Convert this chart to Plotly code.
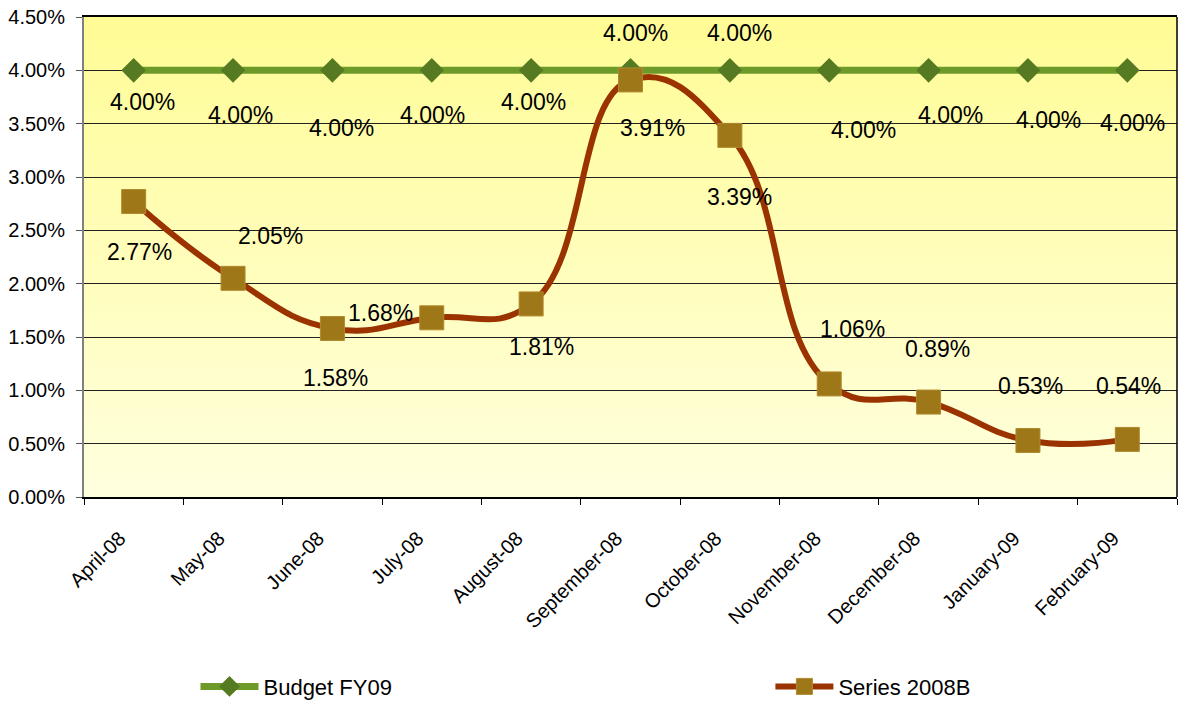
import plotly.graph_objects as go

months = ["April-08", "May-08", "June-08", "July-08", "August-08", "September-08",
          "October-08", "November-08", "December-08", "January-09", "February-09"]
budget = [4.00, 4.00, 4.00, 4.00, 4.00, 4.00, 4.00, 4.00, 4.00, 4.00, 4.00]
series_2008b = [2.77, 2.05, 1.58, 1.68, 1.81, 3.91, 3.39, 1.06, 0.89, 0.53, 0.54]

# label offsets in pixels (dx, dy) -- style only
budget_off = [(9, -32), (7, -45), (9, -58), (1, -45), (2, -32), (5, 37),
              (10, 37), (34, -60), (22, -45), (21, -50), (5, -53)]
series_off = [(6, -50), (37, 42), (3, -50), (-51, 5), (10, -43), (22, -48),
              (10, -62), (23, 55), (9, 53), (3, 54), (1, 53)]

FONT = "Liberation Sans, Arial, sans-serif"

fig = go.Figure()
fig.add_trace(go.Scatter(
    x=months, y=budget, name="Budget FY09", mode="lines+markers",
    line=dict(color="#6E9A2A", width=7),
    marker=dict(symbol="diamond", size=19, color="#567A22"),
    legend="legend",
))
fig.add_trace(go.Scatter(
    x=months, y=series_2008b, name="Series 2008B", mode="lines+markers",
    line=dict(color="#9A3300", width=6, shape="spline", smoothing=1.3),
    marker=dict(symbol="square", size=24, color="#9E7818",
                line=dict(color="#B08A30", width=1)),
    legend="legend2",
))

annotations = []
for vals, offs in ((budget, budget_off), (series_2008b, series_off)):
    for m, v, (dx, dy) in zip(months, vals, offs):
        annotations.append(dict(
            x=m, y=v, xref="x", yref="y", text=f"{v:.2f}%", showarrow=False,
            xshift=dx, yshift=dy, font=dict(family=FONT, size=23, color="black"),
        ))

# vertical gradient background
shapes = []
N = 60
top = (255, 252, 150)
bot = (255, 255, 222)
for i in range(N):
    t = i / (N - 1)
    c = tuple(round(top[k] + (bot[k] - top[k]) * t) for k in range(3))
    shapes.append(dict(type="rect", xref="x domain", yref="y domain",
                       x0=0, x1=1, y0=1 - (i + 1) / N, y1=1 - i / N,
                       fillcolor=f"rgb{c}", line=dict(width=0), layer="below"))
shapes.append(dict(type="line", xref="x domain", yref="y domain", x0=1, x1=1,
                   y0=0, y1=1, line=dict(color="black", width=1.5), layer="above"))

legend_style = dict(orientation="h", yanchor="middle", xanchor="left",
                    itemwidth=58, bgcolor="rgba(0,0,0,0)",
                    font=dict(family=FONT, size=22, color="black"))

fig.update_layout(
    width=1179, height=709,
    margin=dict(l=84, r=2, t=17, b=208),
    paper_bgcolor="white", plot_bgcolor="rgba(0,0,0,0)",
    font=dict(family=FONT, size=20, color="black"),
    showlegend=True,
    legend=dict(x=0.102, y=-0.395, **legend_style),
    legend2=dict(x=0.628, y=-0.395, **legend_style),
    annotations=annotations,
    shapes=shapes,
)
fig.update_xaxes(
    type="category", range=[-0.5, len(months) - 0.5], tickangle=-45,
    tickson="boundaries", ticks="outside",
    ticklen=6, tickcolor="black", showline=True, linecolor="black", linewidth=1.5,
    mirror=True, showgrid=False, tickfont=dict(family=FONT, size=20),
    ticklabelstandoff=20, ticklabelshift=-14,
    automargin=False,
)
fig.update_yaxes(
    range=[0, 4.5], dtick=0.5, tickformat=".2f", ticksuffix="%",
    ticks="outside", ticklen=6, tickcolor="#555", showline=True,
    linecolor="#808080", linewidth=2, showgrid=True, gridcolor="#222",
    gridwidth=1, zeroline=False, tickfont=dict(family=FONT, size=20),
    ticklabelstandoff=7,
    automargin=False,
)

post = (
    "var s=document.createElement('style');"
    "s.textContent='html,body{margin:0;padding:0;overflow:hidden;width:1179px;height:709px}';"
    "document.head.appendChild(s);"
)
fig.write_html("out.html", post_script=post, config={"displayModeBar": False})
